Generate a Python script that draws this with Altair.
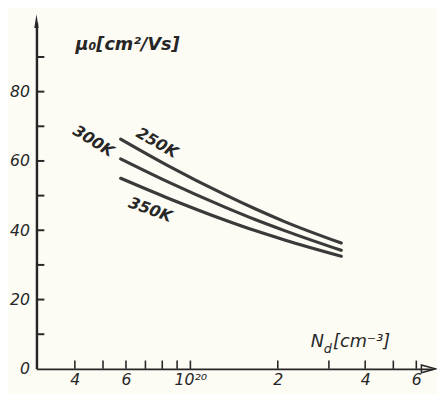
import altair as alt
import pandas as pd

# ---- data ----
N_POINTS = [5.75e19, 8.3e19, 1.32e20, 1.67e20, 2.11e20, 3.31e20]
MU_250K = [66.3, 58.8, 50.2, 46.2, 42.5, 36.3]
MU_300K = [60.6, 54.1, 46.6, 43.1, 39.9, 34.2]
MU_350K = [55.0, 49.4, 42.9, 39.9, 37.2, 32.5]
CURVES = ["250K", "300K", "350K"]

LABEL_TEXT = ["300K", "250K", "350K"]
LABEL_N = [4.63e19, 7.67e19, 7.27e19]
LABEL_MU = [65.7, 65.2, 45.9]
LABEL_ANGLE = [32, 30, 20]

X_LABEL_VALUES = [4e19, 6e19, 1e20, 2e20, 4e20, 6e20]
X_TICK_VALUES = [4e19, 5e19, 6e19, 7e19, 8e19, 9e19, 1e20, 2e20, 3e20, 4e20, 5e20, 6e20]
Y_LABEL_VALUES = [0, 20, 40, 60, 80]
Y_TICK_VALUES = [10, 20, 30, 40, 50, 60, 70, 80, 90]

X_DOMAIN = [2.95e19, 6.8e20]
Y_DOMAIN = [0, 100]

FONT = "DejaVu Sans"
INK = "#262626"
BG = "#fcfbf4"

rows = []
for name, mus in zip(CURVES, [MU_250K, MU_300K, MU_350K]):
    for n, m in zip(N_POINTS, mus):
        rows.append({"T": name, "N": n, "mu": m})
df = pd.DataFrame(rows)

x_scale = alt.Scale(type="log", domain=X_DOMAIN, nice=False)
y_scale = alt.Scale(domain=Y_DOMAIN, nice=False, zero=False)

label_expr = ("datum.value == 1e20 ? '10\u00b2\u2070' : "
              "format(datum.value / (datum.value < 1e20 ? 1e19 : 1e20), '.0f')")

X_AXIS = alt.Axis(
    values=X_LABEL_VALUES, ticks=False, grid=False, title=None,
    domainColor=INK, domainWidth=2, labelExpr=label_expr,
    labelFont=FONT, labelFontSize=16, labelFontStyle="italic",
    labelColor=INK, labelPadding=3, labelFlush=False, labelOverlap=False)
Y_AXIS = alt.Axis(
    values=Y_LABEL_VALUES, ticks=False, grid=False, title=None,
    domainColor=INK, domainWidth=2.5,
    labelFont=FONT, labelFontSize=16, labelFontStyle="italic",
    labelColor=INK, labelPadding=7, labelFlush=False, labelOverlap=False)


def X(field):
    return alt.X(field, scale=x_scale, axis=X_AXIS, title=None)


def Y(field):
    return alt.Y(field, scale=y_scale, axis=Y_AXIS, title=None)


lines = alt.Chart(df).mark_line(
    interpolate="monotone", strokeWidth=3.2, color="#3a3a3a", strokeCap="round"
).encode(x=X("N:Q"), y=Y("mu:Q"), detail="T:N")

y_ticks = alt.Chart(pd.DataFrame({"mu": Y_TICK_VALUES, "n0": X_DOMAIN[0], "n1": 3.14e19})).mark_rule(
    strokeWidth=2, color=INK
).encode(x=X("n0:Q"), x2="n1:Q", y=Y("mu:Q"))

x_ticks = alt.Chart(pd.DataFrame({"N": X_TICK_VALUES, "m0": 0.0, "m1": 2.4})).mark_rule(
    strokeWidth=1.6, color=INK
).encode(x=X("N:Q"), y=Y("m0:Q"), y2="m1:Q")

y_arrow = alt.Chart(pd.DataFrame({"N": [X_DOMAIN[0]], "mu": [99.5]})).mark_point(
    shape="M0,-1L0.22,0.4L-0.22,0.4Z", filled=True, size=400, color=INK, opacity=1
).encode(x=X("N:Q"), y=Y("mu:Q"))

x_arrow = alt.Chart(pd.DataFrame({"N": [6.6e20], "mu": [0.0]})).mark_point(
    shape="M-1,-0.55L1,0L-1,0.55Z", filled=False, size=200, color=INK, strokeWidth=1.5, opacity=1
).encode(x=X("N:Q"), y=Y("mu:Q"))

curve_labels = alt.Chart(pd.DataFrame({
    "N": LABEL_N, "mu": LABEL_MU, "t": LABEL_TEXT, "a": LABEL_ANGLE
})).mark_text(
    font=FONT, fontSize=16, fontStyle="italic", fontWeight="bold", color=INK
).encode(x=X("N:Q"), y=Y("mu:Q"), text="t:N", angle=alt.Angle("a:Q", scale=None))

title_main = alt.Chart(pd.DataFrame({
    "N": [6.08e19], "mu": [93.5], "t": ["\u03bc\u2080[cm\u00b2/Vs]"],
})).mark_text(
    font=FONT, fontSize=18, fontStyle="italic", fontWeight="bold", color=INK, align="center"
).encode(x=X("N:Q"), y=Y("mu:Q"), text="t:N")

title_x = alt.Chart(pd.DataFrame({
    "N": [2.6e20, 3.1e20], "mu": [7.6, 7.6], "t": ["N", "[cm\u207b\u00b3]"],
})).mark_text(
    font=FONT, fontSize=18, fontStyle="italic", color=INK, align="left"
).encode(x=X("N:Q"), y=Y("mu:Q"), text="t:N")

sub_d = alt.Chart(pd.DataFrame({"N": [2.88e20], "mu": [5.6], "t": ["d"]})).mark_text(
    font=FONT, fontSize=13, fontStyle="italic", color=INK, align="left"
).encode(x=X("N:Q"), y=Y("mu:Q"), text="t:N")

chart = alt.layer(
    lines, y_ticks, x_ticks, y_arrow, x_arrow, curve_labels, title_main, title_x, sub_d
).properties(
    width=403, height=353,
    padding={"left": 29, "top": 11, "right": 5, "bottom": 22},
    autosize=alt.AutoSizeParams(type="none"),
    background=BG,
).configure_view(stroke=None)

chart.save("out.html", embed_options={"renderer": "svg", "actions": False})
